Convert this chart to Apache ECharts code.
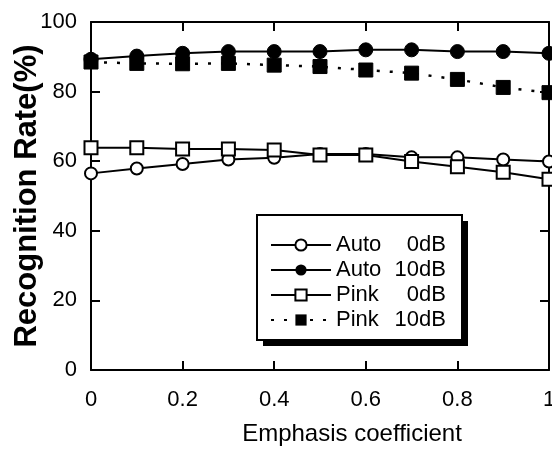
<!DOCTYPE html>
<html>
<head>
<meta charset="utf-8">
<script src="https://cdn.jsdelivr.net/npm/echarts@6/dist/echarts.min.js"></script>
<style>
  html, body { margin: 0; padding: 0; background: #fff; }
  #main { width: 552px; height: 451px; }
</style>
</head>
<body>
<div id="main"></div>
<script>
var coef = [0, 0.1, 0.2, 0.3, 0.4, 0.5, 0.6, 0.7, 0.8, 0.9, 1.0];
var auto0 = [56.5, 57.9, 59.2, 60.5, 61, 62.1, 62.1, 61.1, 61.1, 60.5, 59.9];
var auto10 = [89.3, 90.2, 91, 91.5, 91.5, 91.5, 92, 92, 91.5, 91.5, 91];
var pink0 = [63.9, 63.9, 63.5, 63.5, 63.2, 61.8, 61.8, 59.9, 58.4, 56.8, 54.8];
var pink10 = [88.5, 88.1, 88, 88.1, 87.6, 87.2, 86.2, 85.3, 83.5, 81.2, 79.7];

var font = 'Liberation Sans';

function pairs(ys) {
  return coef.map(function (x, i) { return [x, ys[i]]; });
}

var myChart = echarts.init(document.getElementById('main'));

// legend frame with a hard black drop shadow
var box = { x: 257, y: 215, w: 205, h: 125 };

var axisLine = { show: true, onZero: false, lineStyle: { color: '#000', width: 2 } };
var axisTick = { show: true, inside: true, length: 9, lineStyle: { color: '#000', width: 2 } };

var option = {
    backgroundColor: '#fff',
    animation: false,
    grid: { left: 91, right: 3, top: 22, bottom: 81, containLabel: false, outerBoundsMode: 'none' },
    graphic: [
        { type: 'rect', z: 50, shape: { x: box.x + 6, y: box.y + 6, width: box.w, height: box.h }, style: { fill: '#000' } },
        { type: 'rect', z: 51, shape: { x: box.x, y: box.y, width: box.w, height: box.h }, style: { fill: '#fff', stroke: '#000', lineWidth: 2 } }
    ],
    legend: {
        orient: 'vertical',
        left: 257,
        top: 216,
        z: 60,
        padding: [18, 15, 18, 13],
        itemGap: 3,
        itemWidth: 60,
        itemHeight: 14,
        formatter: function (name) {
            var p = name.split(' ');
            return '{a|' + p[0] + '}{b|' + p[1] + '}';
        },
        textStyle: {
            fontFamily: font,
            fontSize: 22,
            lineHeight: 22,
            color: '#000',
            rich: {
                a: { width: 60, fontSize: 22, lineHeight: 22, fontFamily: font, color: '#000' },
                b: { width: 50, align: 'right', fontSize: 22, lineHeight: 22, fontFamily: font, color: '#000' }
            }
        },
        data: ['Auto 0dB', 'Auto 10dB', 'Pink 0dB', 'Pink 10dB']
    },
    xAxis: [{
        type: 'value',
        min: 0,
        max: 1,
        interval: 0.2,
        name: 'Emphasis coefficient',
        nameLocation: 'middle',
        nameGap: 52,
        nameTextStyle: { fontFamily: font, fontSize: 24, color: '#000', padding: [0, 0, 0, 64] },
        axisLine: axisLine,
        axisTick: axisTick,
        axisLabel: { fontFamily: font, fontSize: 22, color: '#000', margin: 19 },
        splitLine: { show: false }
    }, {
        type: 'value',
        position: 'top',
        min: 0,
        max: 1,
        interval: 0.2,
        axisLine: axisLine,
        axisTick: axisTick,
        axisLabel: { show: false },
        splitLine: { show: false }
    }],
    yAxis: [{
        type: 'value',
        min: 0,
        max: 100,
        interval: 20,
        name: 'Recognition Rate(%)',
        nameLocation: 'middle',
        nameGap: 48,
        nameMoveOverlap: false,
        nameTextStyle: { fontFamily: font, fontSize: 31, fontWeight: 'bold', color: '#000' },
        axisLine: axisLine,
        axisTick: axisTick,
        axisLabel: { fontFamily: font, fontSize: 22, color: '#000', margin: 14 },
        splitLine: { show: false }
    }, {
        type: 'value',
        position: 'right',
        min: 0,
        max: 100,
        interval: 20,
        axisLine: axisLine,
        axisTick: axisTick,
        axisLabel: { show: false },
        splitLine: { show: false }
    }],
    series: [
        {
            name: 'Auto 0dB',
            type: 'line',
            data: pairs(auto0),
            symbol: 'circle',
            symbolSize: 12,
            lineStyle: { color: '#000', width: 2 },
            itemStyle: { color: '#fff', borderColor: '#000', borderWidth: 2 }
        },
        {
            name: 'Auto 10dB',
            type: 'line',
            data: pairs(auto10),
            symbol: 'circle',
            symbolSize: 14,
            lineStyle: { color: '#000', width: 2 },
            itemStyle: { color: '#000', borderColor: '#000' }
        },
        {
            name: 'Pink 0dB',
            type: 'line',
            data: pairs(pink0),
            symbol: 'rect',
            symbolSize: 13,
            lineStyle: { color: '#000', width: 2 },
            itemStyle: { color: '#fff', borderColor: '#000', borderWidth: 2 }
        },
        {
            name: 'Pink 10dB',
            type: 'line',
            data: pairs(pink10),
            symbol: 'rect',
            symbolSize: 14,
            lineStyle: { color: '#000', width: 2.5, type: [3, 10] },
            itemStyle: { color: '#000', borderColor: '#000' }
        }
    ]
};

myChart.setOption(option);
</script>
</body>
</html>
